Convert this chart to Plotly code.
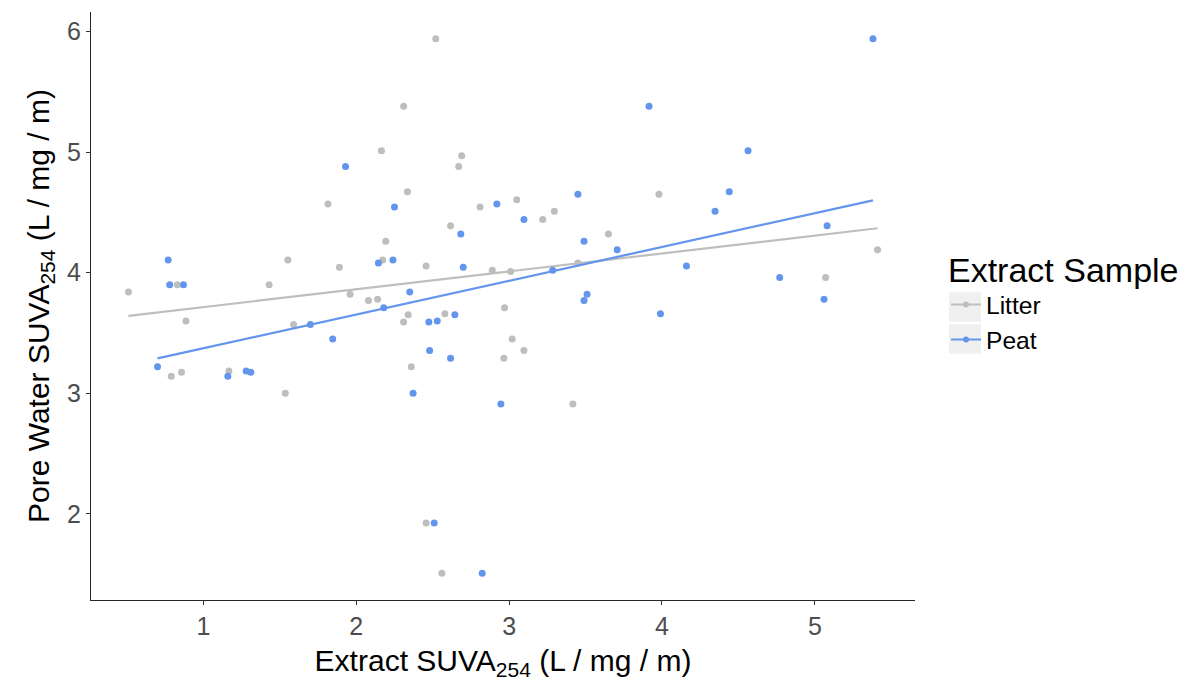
import numpy as np
import plotly.graph_objects as go

# Litter extract points (x = extract SUVA254, y = pore water SUVA254)
litter_x = [2.52, 2.31, 2.165, 2.69, 2.67, 2.335, 3.98, 3.05, 1.815, 2.81, 3.296, 3.22,
            2.617, 3.65, 2.193, 5.41, 1.553, 2.173, 3.45, 2.457, 1.89, 2.89, 3.01, 5.07,
            0.83, 1.43, 0.51, 1.96, 2.14, 2.08, 2.97, 2.58, 2.34, 0.886, 2.31, 1.59,
            3.02, 3.097, 2.966, 2.36, 1.167, 0.857, 0.79, 1.536, 3.417, 2.457, 2.56]
litter_y = [5.94, 5.38, 5.01, 4.97, 4.88, 4.67, 4.65, 4.605, 4.57, 4.545, 4.51, 4.44,
            4.39, 4.32, 4.26, 4.19, 4.105, 4.105, 4.08, 4.055, 4.045, 4.02, 4.01, 3.96,
            3.90, 3.90, 3.84, 3.82, 3.78, 3.77, 3.71, 3.66, 3.65, 3.60, 3.59, 3.57,
            3.45, 3.355, 3.29, 3.22, 3.185, 3.175, 3.14, 3.00, 2.91, 1.924, 1.507]

# Peat extract points
peat_x = [5.38, 3.915, 4.563, 1.93, 4.44, 3.45, 2.92, 2.25, 4.347, 3.097, 5.08, 2.684,
          3.49, 3.707, 0.77, 2.24, 2.145, 4.16, 2.70, 3.285, 4.77, 0.78, 0.87, 2.35,
          3.51, 5.06, 3.49, 2.18, 3.99, 2.645, 2.53, 2.475, 1.70, 1.846, 2.48, 2.617,
          0.70, 1.28, 1.31, 1.16, 2.372, 2.946, 2.51, 2.824]
peat_y = [5.94, 5.38, 5.01, 4.88, 4.67, 4.65, 4.57, 4.545, 4.51, 4.44, 4.39, 4.32,
          4.26, 4.19, 4.105, 4.105, 4.08, 4.055, 4.045, 4.02, 3.96, 3.90, 3.90, 3.84,
          3.82, 3.78, 3.77, 3.71, 3.66, 3.65, 3.60, 3.59, 3.57, 3.45, 3.355, 3.29,
          3.22, 3.185, 3.175, 3.14, 3.00, 2.91, 1.924, 1.507]

series_names = ["Litter", "Peat"]
series_colors = ["#BEBEBE", "#6495ED"]
x_ticks = [1, 2, 3, 4, 5]
y_ticks = [2, 3, 4, 5, 6]

FONT = "Arial, Liberation Sans, sans-serif"

fig = go.Figure()

all_x, all_y = [], []
for name, color, xs, ys in [("Litter", series_colors[0], litter_x, litter_y),
                            ("Peat", series_colors[1], peat_x, peat_y)]:
    xs_a = np.array(xs); ys_a = np.array(ys)
    all_x += xs; all_y += ys
    fig.add_trace(go.Scatter(x=xs, y=ys, mode="markers", showlegend=False,
                             marker=dict(color=color, size=7), hoverinfo="x+y"))
    slope, inter = np.polyfit(xs_a, ys_a, 1)
    lx = np.linspace(xs_a.min(), xs_a.max(), 80)
    fig.add_trace(go.Scatter(x=lx, y=slope * lx + inter, mode="lines", showlegend=False,
                             line=dict(color=color, width=2.2), hoverinfo="skip"))

# legend proxies (line + point key, like ggplot)
for name, color in zip(series_names, series_colors):
    fig.add_trace(go.Scatter(x=[None], y=[None], mode="lines+markers", name=name,
                             line=dict(color=color, width=2),
                             marker=dict(color=color, size=6)))

xmin, xmax = min(all_x), max(all_x)
ymin, ymax = min(all_y), max(all_y)
xr = [xmin - 0.05 * (xmax - xmin), xmax + 0.05 * (xmax - xmin)]
yr = [ymin - 0.05 * (ymax - ymin), ymax + 0.05 * (ymax - ymin)]

axis_common = dict(showgrid=False, zeroline=False, showline=True, linecolor="#262626",
                   linewidth=1.3, ticks="outside", ticklen=4, tickcolor="#333333",
                   tickwidth=1.2, tickfont=dict(family=FONT, size=25, color="#4D4D4D"))

# grey legend-key backgrounds (ggplot style)
key_shapes = []
for y0, y1 in [(0.4711, 0.5255), (0.4167, 0.4711)]:
    key_shapes.append(dict(type="rect", xref="paper", yref="paper",
                           x0=1.0413, x1=1.0801, y0=y0 + 0.002, y1=y1 - 0.002,
                           fillcolor="#F0F0F0", line=dict(width=0), layer="below"))

fig.update_layout(
    width=1190, height=681,
    margin=dict(l=91, r=275, t=12, b=81, autoexpand=False),
    paper_bgcolor="white", plot_bgcolor="white",
    font=dict(family=FONT),
    shapes=key_shapes,
    xaxis=dict(range=xr, tickvals=x_ticks, ticktext=[str(v) for v in x_ticks],
               title=dict(text="Extract SUVA<sub>254</sub> (L / mg / m)",
                          font=dict(family=FONT, size=30, color="black"), standoff=10),
               **axis_common),
    yaxis=dict(range=yr, tickvals=y_ticks, ticktext=[str(v) for v in y_ticks],
               title=dict(text="Pore Water SUVA<sub>254</sub> (L / mg / m)",
                          font=dict(family=FONT, size=30, color="black"), standoff=8),
               **axis_common),
    legend=dict(x=1.0376, xanchor="left", y=0.616, yanchor="top",
                title=dict(text="Extract Sample", font=dict(family=FONT, size=34, color="black")),
                font=dict(family=FONT, size=24.6, color="black"),
                bgcolor="rgba(0,0,0,0)", tracegroupgap=0, itemwidth=30),
)

fig.write_html("out.html")
